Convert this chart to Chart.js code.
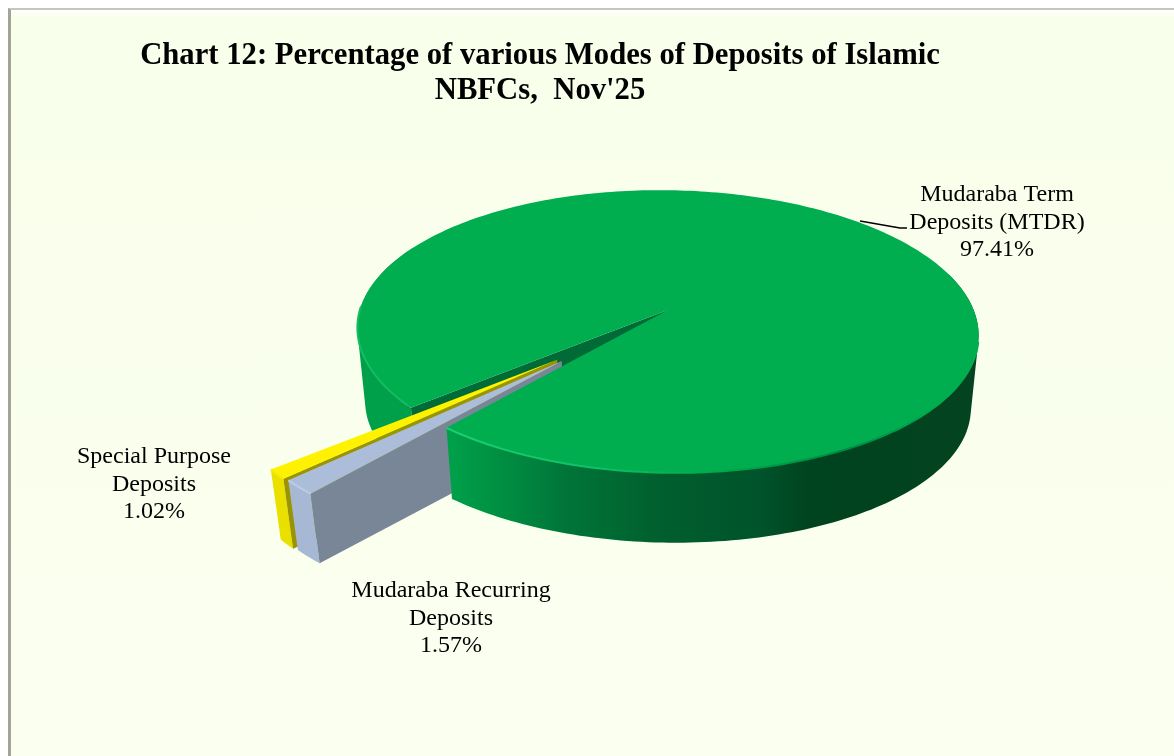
<!DOCTYPE html>
<html>
<head>
<meta charset="utf-8">
<title>Chart 12</title>
<style>
html, body { margin: 0; padding: 0; background: #fff; overflow: hidden; }
#marco { position: absolute; left: 8px; top: 8px; width: 1166px; height: 748px; box-sizing: border-box;
  border-left: 3px solid #a3a396; border-top: 2px solid #c6c6ba;
  background: linear-gradient(#ffffff 0, #f8ffea 9px, #fbfff0 100%); }
#grafico { position: absolute; left: 0; top: 0; }
</style>
<script src="https://cdn.jsdelivr.net/npm/chart.js@4/dist/chart.umd.min.js"></script>
</head>
<body>
<div id="marco"></div>
<canvas id="grafico" width="1174" height="756"></canvas>
<script>
var categorias = ["Mudaraba Term Deposits (MTDR)", "Mudaraba Recurring Deposits", "Special Purpose Deposits"];
var valores = [97.41, 1.57, 1.02];
var etiquetas = [["Mudaraba Term", "Deposits (MTDR)"], ["Mudaraba Recurring", "Deposits"], ["Special Purpose", "Deposits"]];
var titulo = ["Chart 12: Percentage of various Modes of Deposits of Islamic", "NBFCs,  Nov'25"];
var colores = ["#00ae50", "#abbdd9", "#fff200"];

// vista del pastel 3D
var CX = 668, CY = 310, RX = 307, A = 138, B = -0.152, TILT = 0.012;
var INSET = 0.975, DY = 74;
var FUENTE = "'Liberation Serif', 'Times New Roman', serif";

function proy(u, v, abajo) {
  var d = 1 + B * v;
  var x = RX * u / d;
  var y = A * v / d + x * TILT;
  if (abajo) return [CX + x * INSET, CY + y * INSET + DY];
  return [CX + x, CY + y];
}

function borde(a1, a2, ox, oy, abajo) {
  var pts = [];
  var n = Math.max(2, Math.ceil(Math.abs(a2 - a1) / 0.02));
  for (var i = 0; i <= n; i++) {
    var a = a1 + (a2 - a1) * i / n;
    pts.push(proy(ox + Math.cos(a), oy + Math.sin(a), abajo));
  }
  return pts;
}

function trazar(ctx, pts) {
  ctx.beginPath();
  for (var i = 0; i < pts.length; i++) {
    if (i == 0) ctx.moveTo(pts[i][0], pts[i][1]);
    else ctx.lineTo(pts[i][0], pts[i][1]);
  }
}

function poligono(ctx, pts, relleno) {
  trazar(ctx, pts);
  ctx.closePath();
  ctx.fillStyle = relleno;
  ctx.fill();
}

function gradienteX(ctx, x1, x2, stops) {
  var g = ctx.createLinearGradient(x1, 0, x2, 0);
  for (var i = 0; i < stops.length; i++) g.addColorStop(stops[i][0], stops[i][1]);
  return g;
}

function areaQuad(q) {
  var s = 0;
  for (var i = 0; i < 4; i++) {
    var p = q[i], r = q[(i + 1) % 4];
    s += p[0] * r[1] - r[0] * p[1];
  }
  return s;
}

// todas las tiras en un solo path, con la misma orientacion, para que no queden rayas
function paredExterior(ctx, a1, a2, ox, oy, relleno) {
  var arriba = borde(a1, a2, ox, oy, false);
  var abajo = borde(a1, a2, ox, oy, true);
  ctx.beginPath();
  for (var i = 0; i < arriba.length - 1; i++) {
    var q = [arriba[i], arriba[i + 1], abajo[i + 1], abajo[i]];
    if (areaQuad(q) < 0) q.reverse();
    ctx.moveTo(q[0][0], q[0][1]);
    ctx.lineTo(q[1][0], q[1][1]);
    ctx.lineTo(q[2][0], q[2][1]);
    ctx.lineTo(q[3][0], q[3][1]);
    ctx.closePath();
  }
  ctx.fillStyle = relleno;
  ctx.fill('nonzero');
}

function paredCorte(ctx, a, ox, oy, relleno) {
  var p = borde(a, a, ox, oy, false)[0], q = borde(a, a, ox, oy, true)[0];
  poligono(ctx, [proy(ox, oy, false), p, q, proy(ox, oy, true)], relleno);
}

function cara(ctx, a1, a2, ox, oy, relleno) {
  poligono(ctx, [proy(ox, oy, false)].concat(borde(a1, a2, ox, oy, false)), relleno);
}

function rebanadaChica(ctx, el, explosion, dir, relleno, frente, corte, brillo) {
  var ox = Math.cos(dir) * explosion, oy = Math.sin(dir) * explosion;
  paredExterior(ctx, el.startAngle, el.endAngle, ox, oy, frente);
  paredCorte(ctx, el.startAngle, ox, oy, corte);
  cara(ctx, el.startAngle, el.endAngle, ox, oy, relleno);
  trazar(ctx, borde(el.startAngle, el.endAngle, ox, oy, false));
  ctx.lineWidth = 2;
  ctx.strokeStyle = brillo;
  ctx.stroke();
}

var pastel3d = {
  id: 'pastel3d',
  beforeDatasetsDraw: function(chart) {
    var ctx = chart.ctx;
    var arcos = chart.getDatasetMeta(0).data;
    var verde = arcos[0], azul = arcos[1], amarillo = arcos[2];
    var giro = Math.PI * 2;
    ctx.save();

    // lo que queda detras de las rebanadas chicas
    paredExterior(ctx, verde.startAngle, Math.PI * 1.15, 0, 0, "#00a04a");
    paredCorte(ctx, verde.startAngle, 0, 0, "#006b36");

    // las dos salen casi en la misma direccion
    var dirAmarillo = (azul.startAngle + amarillo.endAngle) / 2;
    var dirAzul = (azul.startAngle + azul.endAngle) / 2;
    rebanadaChica(ctx, amarillo, 0.49, dirAmarillo, colores[2], "#e9e000", "#9a9400", "#f6ec00");
    rebanadaChica(ctx, azul, 0.485, dirAzul, colores[1], "#a6b8d3", "#788698", "#bccbe4");

    // frente y cara del verde
    var pared = gradienteX(ctx, 450, 975, [
      [0, "#00a04a"], [0.12, "#008a40"], [0.22, "#007538"], [0.4, "#005f2e"],
      [0.6, "#00522a"], [0.68, "#00431f"], [1, "#04431f"]
    ]);
    paredExterior(ctx, giro - 0.3, verde.endAngle, 0, 0, pared);
    cara(ctx, verde.startAngle, verde.endAngle, 0, 0, colores[0]);

    // brillo del canto
    trazar(ctx, borde(giro + 0.2, verde.endAngle, 0, 0, false));
    ctx.lineWidth = 2;
    ctx.strokeStyle = gradienteX(ctx, 450, 940, [
      [0, "#1ad070"], [0.3, "#10c064"], [0.55, "#00a84c"], [0.8, "#008a42"], [1, "#00ae50"]
    ]);
    ctx.stroke();

    trazar(ctx, borde(verde.startAngle + 0.02, Math.PI, 0, 0, false));
    ctx.strokeStyle = "#14bd62";
    ctx.stroke();

    ctx.restore();
    return false;
  },
  afterDraw: function(chart) {
    var ctx = chart.ctx;
    ctx.save();
    ctx.font = "24px " + FUENTE;
    ctx.fillStyle = "#000";
    ctx.textAlign = "center";
    ctx.textBaseline = "middle";
    var pos = [[997, 195], [451, 591], [154, 457]];
    for (var i = 0; i < valores.length; i++) {
      var lineas = etiquetas[i].concat([valores[i].toFixed(2) + "%"]);
      for (var k = 0; k < lineas.length; k++) {
        ctx.fillText(lineas[k], pos[i][0], pos[i][1] + k * 27.5);
      }
    }
    // linea guia
    ctx.beginPath();
    ctx.moveTo(860, 221);
    ctx.lineTo(900, 228);
    ctx.lineTo(907, 228);
    ctx.lineWidth = 1.5;
    ctx.strokeStyle = "#000";
    ctx.stroke();
    ctx.restore();
  }
};

var contexto = document.getElementById("grafico").getContext("2d");
var chart = new Chart(contexto, {
  type: 'pie',
  data: {
    labels: categorias,
    datasets: [{ data: valores, backgroundColor: colores, borderWidth: 0 }]
  },
  options: {
    responsive: false,
    animation: false,
    rotation: 228.9,
    layout: { padding: { right: 94 } },
    plugins: {
      legend: { display: false },
      tooltip: { enabled: false },
      title: {
        display: true,
        text: titulo,
        fullSize: false,
        color: "#000",
        padding: { top: 39, bottom: 10 },
        font: { family: FUENTE, size: 30.7, weight: 'bold', lineHeight: 1.14 }
      }
    }
  },
  plugins: [pastel3d]
});
</script>
</body>
</html>
